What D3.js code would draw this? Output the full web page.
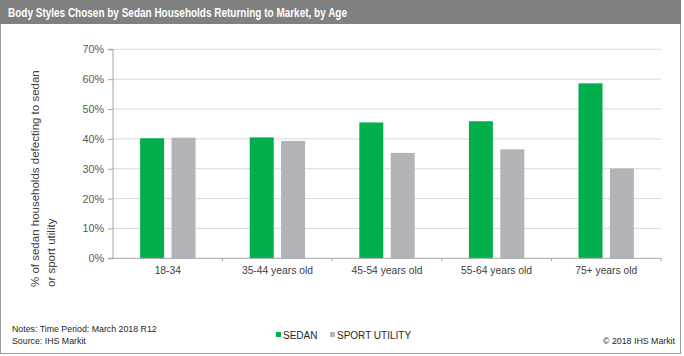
<!DOCTYPE html>
<html><head><meta charset="utf-8">
<script src="https://cdn.jsdelivr.net/npm/d3@7"></script>
<style>body{margin:0;background:#fff;} svg{display:block;font-family:Arial,"Liberation Sans",sans-serif;}</style>
</head><body>
<svg id="c" width="684" height="356"></svg>
<script>
const categories = ["18-34","35-44 years old","45-54 years old","55-64 years old","75+ years old"];
const seriesNames = ["SEDAN","SPORT UTILITY"];
const sedan = [40.2,40.5,45.5,45.9,58.6];
const sportUtility = [40.4,39.3,35.3,36.5,30.1];
const yTicks = [0,10,20,30,40,50,60,70];
const colors = ["#00ae4c","#b3b4b7"];

const svg = d3.select("#c");
const W=681,H=356;
// frame
svg.append("rect").attr("x",0.5).attr("y",0.5).attr("width",W-1).attr("height",H-3).attr("fill","#fff").attr("stroke","#9d9d9d");
svg.append("rect").attr("x",0).attr("y",0).attr("width",W).attr("height",24).attr("fill","#808080");
svg.append("text").attr("x",8).attr("y",17).attr("fill","#fff").attr("font-weight","bold").attr("font-size",12.5)
  .attr("textLength",339).attr("lengthAdjust","spacingAndGlyphs")
  .text("Body Styles Chosen by Sedan Households Returning to Market, by Age");

const x0=113,x1=661,y0=258.3,y1=49.3;
const x = d3.scaleBand().domain(categories).range([x0,x1]);
const y = d3.scaleLinear().domain([0,70]).range([y0,y1]);
const g = svg.append("g");
// gridlines
g.selectAll("line.grid").data(yTicks.filter(d=>d>0)).join("line")
  .attr("x1",x0).attr("x2",x1).attr("y1",d=>y(d)).attr("y2",d=>y(d)).attr("stroke","#d9d9d9").attr("stroke-width",1);
// bars
const barW = 24, gap = 7.4;
const data = [sedan, sportUtility];
data.forEach((vals,si)=>{
  g.selectAll("rect.s"+si).data(categories).join("rect")
    .attr("x",(c)=>x(c)+x.bandwidth()/2 + (si===0 ? -gap/2-barW : gap/2))
    .attr("width",barW)
    .attr("y",(c,i)=>y(vals[i]))
    .attr("height",(c,i)=>y0-y(vals[i]))
    .attr("fill",colors[si]);
});
// y axis
const ya = d3.axisLeft(y).tickValues(yTicks).tickFormat(d=>d+"%").tickSize(5).tickPadding(4);
const yg = svg.append("g").attr("transform",`translate(${x0},0)`).call(ya);
yg.select(".domain").attr("stroke","#a6a6a6").attr("d",`M-5,${y1}H0V${y0}H-5`);
yg.selectAll(".tick line").attr("stroke","#a6a6a6");
yg.selectAll("text").attr("fill","#595959").attr("font-size",10.8).attr("font-family","Arial, 'Liberation Sans', sans-serif");
// x axis
const xa = d3.axisBottom(x).tickSize(0).tickPadding(8);
const xg = svg.append("g").attr("transform",`translate(0,${y0})`).call(xa);
xg.select(".domain").attr("stroke","#a6a6a6").attr("d",`M${x0},0H${x1}V3`);
xg.selectAll("text").attr("fill","#404040").attr("font-size",10.3).attr("font-family","Arial, 'Liberation Sans', sans-serif");
// category separator ticks
svg.selectAll("line.ct").data(categories.slice(1)).join("line")
  .attr("x1",c=>x(c)).attr("x2",c=>x(c)).attr("y1",y0).attr("y2",y0+3).attr("stroke","#a6a6a6");
// y title
const yt = svg.append("text").attr("transform","translate(0,287) rotate(-90)").attr("font-size",11.5).attr("fill","#404040");
yt.append("tspan").attr("x",0).attr("y",39).text("% of sedan households defecting to sedan");
yt.append("tspan").attr("x",0).attr("y",54.5).text("or sport utility");
// legend
const lg = svg.append("g").attr("transform","translate(276,335)");
const lx=[0,54];
seriesNames.forEach((n,i)=>{
  lg.append("rect").attr("x",lx[i]).attr("y",-3).attr("width",5).attr("height",5).attr("fill",colors[i]);
  lg.append("text").attr("x",lx[i]+7).attr("y",3.6).attr("font-size",10).attr("fill","#262626").text(n);
});
// notes
svg.append("text").attr("x",12).attr("y",332).attr("font-size",8.8).attr("fill","#262626").text("Notes: Time Period: March 2018 R12");
svg.append("text").attr("x",12).attr("y",344).attr("font-size",8.8).attr("fill","#262626").text("Source: IHS Markit");
svg.append("text").attr("x",675).attr("y",344).attr("text-anchor","end").attr("font-size",8.8).attr("fill","#262626").text("© 2018 IHS Markit");
</script>
</body></html>
